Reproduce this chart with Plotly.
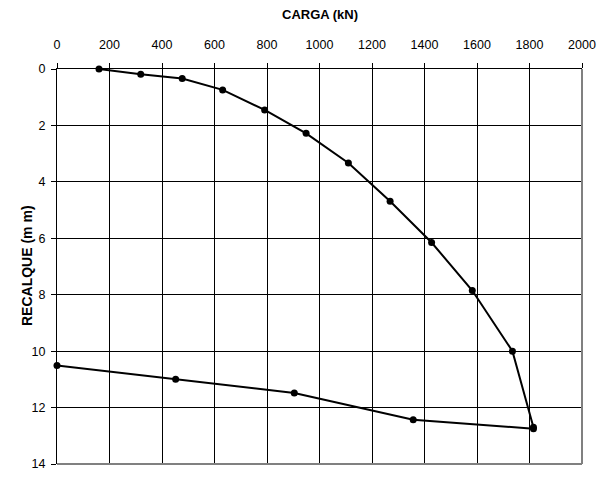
import plotly.graph_objects as go

# Load test: settlement vs. applied load
carga_ida = [160, 319, 477, 631, 791, 949, 1110, 1269, 1427, 1582, 1735, 1815]
recalque_ida = [0.0, 0.19, 0.34, 0.74, 1.45, 2.28, 3.33, 4.69, 6.15, 7.85, 10.0, 12.7]

carga_volta = [1815, 1357, 904, 452, 0]
recalque_volta = [12.75, 12.43, 11.48, 11.0, 10.51]

x_ticks = list(range(0, 2001, 200))
y_ticks = list(range(0, 15, 2))

FONT = "Liberation Sans, Arial, sans-serif"
L, R, T, B = 57, 30, 69, 15
W, H = 612, 483
PW, PH = W - L - R, H - T - B

fig = go.Figure()
for xs, ys in [(carga_ida, recalque_ida), (carga_volta, recalque_volta)]:
    fig.add_trace(go.Scatter(
        x=xs, y=ys, mode="lines+markers",
        line=dict(color="black", width=2),
        marker=dict(color="black", size=7),
        showlegend=False, cliponaxis=False,
    ))

fig.update_layout(
    width=W, height=H,
    margin=dict(l=L, r=R, t=T, b=B),
    paper_bgcolor="white", plot_bgcolor="white",
    font=dict(family=FONT, size=12.5, color="black"),
    annotations=[
        dict(text="<b>CARGA (kN)</b>", x=0.5, xref="paper",
             y=1 + (T - 14) / PH, yref="paper",
             yanchor="middle", xanchor="center", showarrow=False,
             font=dict(family=FONT, size=13)),
        dict(text="<b>RECALQUE (m m)</b>", x=(27 - L) / PW, xref="paper",
             y=1 - (268 - T) / PH, yref="paper",
             textangle=-90, showarrow=False, xanchor="center", yanchor="middle",
             font=dict(family=FONT, size=14)),
    ],
    shapes=[
        dict(type="line", xref="paper", yref="paper", x0=1, x1=1, y0=0, y1=1,
             line=dict(color="#808080", width=2)),
        dict(type="line", xref="paper", yref="paper", x0=0, x1=1, y0=0, y1=0,
             line=dict(color="#808080", width=2)),
    ],
)

fig.update_xaxes(
    side="top", range=[0, 2000], tickvals=x_ticks, ticktext=[str(v) for v in x_ticks],
    showgrid=True, gridcolor="black", gridwidth=1,
    showline=True, linecolor="black", linewidth=1,
    ticks="outside", ticklen=5, tickcolor="black",
    ticklabelstandoff=9, zeroline=False,
)
fig.update_yaxes(
    range=[14, 0], tickvals=y_ticks, ticktext=[str(v) for v in y_ticks],
    showgrid=True, gridcolor="black", gridwidth=1,
    showline=True, linecolor="black", linewidth=1,
    ticks="outside", ticklen=5, tickcolor="black",
    ticklabelstandoff=3, zeroline=False,
)

fig.write_html("out.html")
